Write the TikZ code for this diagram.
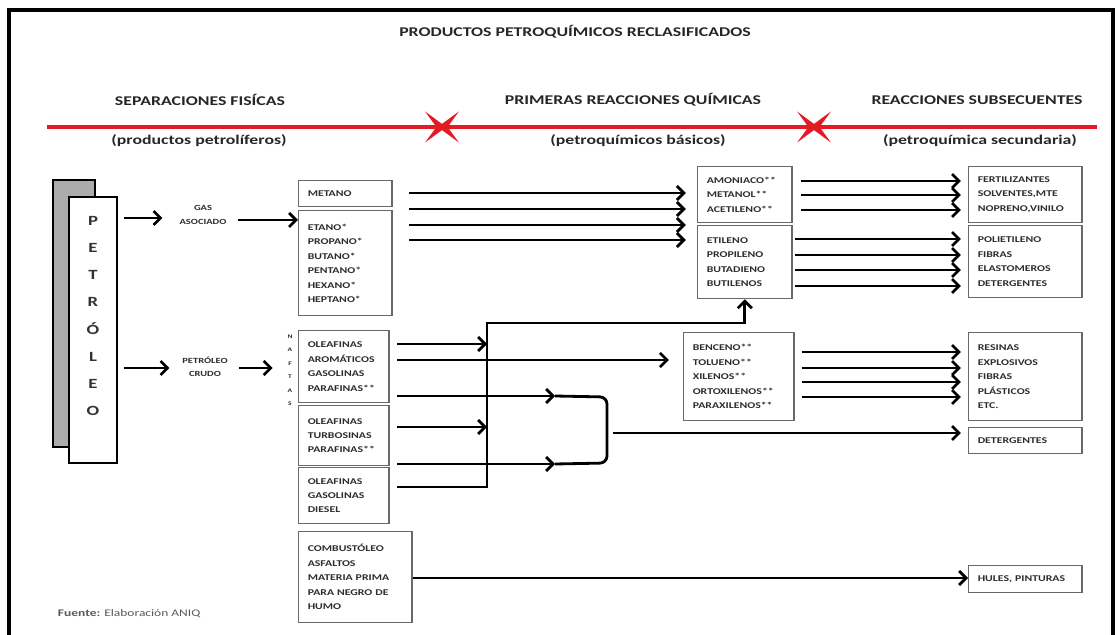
\documentclass[tikz,border=0pt]{standalone}
\usepackage{fontspec}
\setmainfont[FakeStretch=1.33]{Carlito}
\usetikzlibrary{arrows.meta,calc}
\definecolor{redline}{RGB}{226,28,34}
\definecolor{boxline}{RGB}{105,105,105}
\definecolor{textgray}{RGB}{45,45,45}
\definecolor{backgray}{RGB}{172,172,172}

\begin{document}
\begin{tikzpicture}[x=0.025cm,y=-0.025cm,>={Straight Barb[length=5pt,width=10pt,line width=1.9pt]},
  every node/.style={font=\bfseries\fontsize{6.3}{10.3}\selectfont,text=textgray}]
\tikzset{prod/.style={draw=boxline,line width=0.9pt,align=left,anchor=north west,
  inner xsep=6.5pt,inner ysep=2pt},
  flow/.style={->,line width=2pt},
  head/.style={font=\bfseries\fontsize{9.5}{11}\selectfont,text=black!85},
  stage/.style={redline,line width=3.4pt}}
\useasboundingbox (0,0) rectangle (1119,635);

% frame
\draw[line width=2.3pt] (9,645) -- (9,10) -- (1113,10) -- (1113,645);

% titles
\node[head] (title) at (575,32) {PRODUCTOS PETROQUÍMICOS RECLASIFICADOS};
\node[head] (h1) at (200,100) {SEPARACIONES FISÍCAS};
\node[head] (h2) at (633,100) {PRIMERAS REACCIONES QUÍMICAS};
\node[head] (h3) at (977,100) {REACCIONES SUBSECUENTES};
\node[head] (s1) at (199,141) {(productos petrolíferos)};
\node[head] (s2) at (638,141) {(petroquímicos básicos)};
\node[head] (s3) at (980,141) {(petroquímica secundaria)};

% red stage line
\coordinate (st0) at (47,127);
\coordinate (st1) at (442,127);
\coordinate (st2) at (814,127);
\coordinate (st3) at (1097,127);
\draw[stage,shorten >=-3pt,-{Stealth[length=15pt,width=22pt,inset=8pt]}] (st0) -- (st1);
\draw[stage,shorten <=-3pt,shorten >=-3pt,{Stealth[length=15pt,width=22pt,inset=8pt]}-{Stealth[length=15pt,width=22pt,inset=8pt]}] (st1) -- (st2);
\draw[stage,shorten <=-3pt,{Stealth[length=15pt,width=22pt,inset=8pt]}-] (st2) -- (st3);

% petroleo
\node[draw,line width=1.9pt,fill=backgray,minimum width=1.05cm,minimum height=6.68cm] (petroback) at (74,313.5) {};
\node[draw,line width=1.9pt,fill=white,minimum width=1.2cm,minimum height=6.65cm] (petro) at (93,330) {};
\node[font=\bfseries\fontsize{10}{19.3}\selectfont,align=center,text=black!80] (petroword) at (93,316) {P\\E\\T\\R\\Ó\\L\\E\\O};

\node[align=center,font=\bfseries\fontsize{5.6}{9.5}\selectfont,inner sep=0pt] (gas) at (203,215) {GAS\\ASOCIADO};
\node[align=center,font=\bfseries\fontsize{5.6}{9.5}\selectfont,inner sep=0pt] (crudo) at (205,367) {PETRÓLEO\\CRUDO};
\node[align=center,font=\bfseries\fontsize{4}{9.6}\selectfont,inner sep=0pt] (naftas) at (290,370) {N\\A\\F\\T\\A\\S};

% separaciones fisicas
\node[prod,text width=1.875cm,minimum height=0.65cm] (metano) at (298,180) {METANO};
\node[prod,text width=1.875cm,minimum height=2.625cm] (etano) at (298,210)
  {ETANO*\\PROPANO*\\BUTANO*\\PENTANO*\\HEXANO*\\HEPTANO*};
\node[prod,text width=1.8cm,minimum height=1.8cm] (naftaA) at (298,330)
  {OLEAFINAS\\AROMÁTICOS\\GASOLINAS\\PARAFINAS**};
\node[prod,text width=1.8cm,minimum height=1.5cm] (naftaB) at (298,405)
  {OLEAFINAS\\TURBOSINAS\\PARAFINAS**};
\node[prod,text width=1.8cm,minimum height=1.4cm] (naftaC) at (298,467)
  {OLEAFINAS\\GASOLINAS\\DIESEL};
\node[prod,text width=2.375cm,minimum height=2.275cm] (combust) at (298,531)
  {COMBUSTÓLEO\\ASFALTOS\\MATERIA PRIMA\\PARA NEGRO DE\\HUMO};

% petroquimicos basicos
\node[prod,text width=1.9cm,minimum height=1.4cm] (amon) at (697,166)
  {AMONIACO**\\METANOL**\\ACETILENO**};
\node[prod,text width=1.9cm,minimum height=1.825cm] (etil) at (697,225)
  {ETILENO\\PROPILENO\\BUTADIENO\\BUTILENOS};
\node[prod,text width=2.3cm,minimum height=2.2cm] (benc) at (683,332)
  {BENCENO**\\TOLUENO**\\XILENOS**\\ORTOXILENOS**\\PARAXILENOS**};

% petroquimica secundaria
\node[prod,text width=2.375cm,minimum height=1.4cm] (fert) at (968,166)
  {FERTILIZANTES\\SOLVENTES,MTE\\NOPRENO,VINILO};
\node[prod,text width=2.375cm,minimum height=1.8cm] (polie) at (968,225)
  {POLIETILENO\\FIBRAS\\ELASTOMEROS\\DETERGENTES};
\node[prod,text width=2.375cm,minimum height=2.2cm] (resin) at (968,332)
  {RESINAS\\EXPLOSIVOS\\FIBRAS\\PLÁSTICOS\\ETC.};
\node[prod,text width=2.375cm,minimum height=0.65cm] (deter) at (968,427) {DETERGENTES};
\node[prod,text width=2.375cm,minimum height=0.675cm] (hules) at (968,565) {HULES, PINTURAS};

\node[font=\fontsize{7.2}{8}\selectfont,text=black!65,anchor=west] (fuente) at (53,614)
  {\textbf{Fuente:} \mdseries Elaboración ANIQ};

% helper points
\coordinate (riser) at (487,323);
\coordinate (brkTop) at (555,396);
\coordinate (brkBot) at (555,464);
\coordinate (brkOut) at (613,433);

% arrows
\draw[flow,shorten <=4pt,shorten >=12pt] (petro.east |- 0,218) -- (gas.west |- 0,218);
\draw[flow,shorten <=8pt] (gas.east |- 0,220) -- (etano.west |- 0,220);
\draw[flow,shorten <=4pt,shorten >=9pt] (petro.east |- 0,368) -- (crudo.west |- 0,368);
\draw[flow,shorten <=8pt,shorten >=18pt] (crudo.east |- 0,368) -- (naftaA.west |- 0,368);

\foreach \yy in {193,209,225,240}
  \draw[flow,shorten <=12pt,shorten >=8pt] (etano.east |- 0,\yy) -- (amon.west |- 0,\yy);
\foreach \yy in {181,195,210}
  \draw[flow,shorten <=6pt,shorten >=5pt] (amon.east |- 0,\yy) -- (fert.west |- 0,\yy);
\foreach \yy in {239,255,270,286}
  \draw[flow,shorten <=1.5pt,shorten >=5pt] (etil.east |- 0,\yy) -- (polie.west |- 0,\yy);
\foreach \yy in {352,368,382,397}
  \draw[flow,shorten <=5pt,shorten >=5pt] (benc.east |- 0,\yy) -- (resin.west |- 0,\yy);

\draw[flow,shorten <=5.5pt] (naftaA.east |- 0,344) -- (riser |- 0,344);
\draw[flow,shorten <=5.5pt,shorten >=10pt] (naftaA.east |- 0,360) -- (benc.west |- 0,360);
\draw[flow,shorten <=5.5pt] (naftaA.east |- brkTop) -- (brkTop);
\draw[flow,shorten <=5.5pt] (naftaB.east |- 0,427) -- (riser |- 0,427);
\draw[flow,shorten <=5.5pt] (naftaC.east |- brkBot) -- (brkBot);
\draw[flow,shorten <=5.5pt] (naftaC.east |- 0,487) -| (riser) -| (etil.south);
\draw[line width=2pt,rounded corners=5pt] (brkTop) -- (607,397) -- (607,463) -- (brkBot);
\draw[flow,shorten >=5pt] (brkOut) -- (deter.west |- brkOut);
\draw[flow] (combust.east |- 0,578) -- (hules.west |- 0,578);
\end{tikzpicture}
\end{document}
